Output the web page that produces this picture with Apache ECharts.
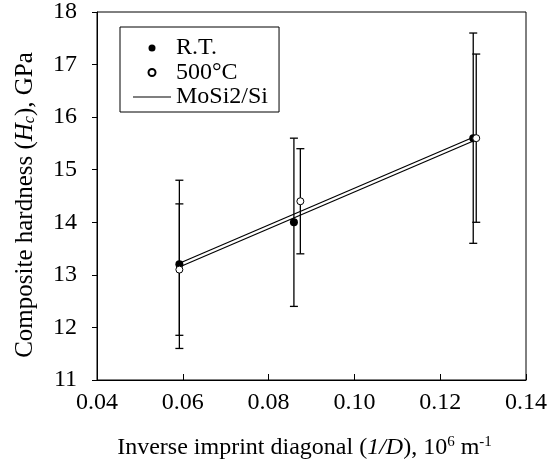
<!DOCTYPE html>
<html>
<head>
<meta charset="utf-8">
<script src="https://cdn.jsdelivr.net/npm/echarts@6/dist/echarts.min.js"></script>
<style>
  html, body { margin: 0; padding: 0; background: #fff; }
  #chart { width: 550px; height: 468px; }
</style>
</head>
<body>
<div id="chart"></div>
<script>
// R.T. measurements
var rtX = [0.0592, 0.0859, 0.1277]
var rtY = [13.2, 14.0, 15.6]
var rtErr = [1.6, 1.6, 2.0]
// 500°C measurements
var hotX = [0.0592, 0.0874, 0.1284]
var hotY = [13.1, 14.4, 15.6]
var hotErr = [1.25, 1.0, 1.6]
// MoSi2/Si model lines
var fitX = [0.0592, 0.1284]
var fitUpper = [13.22, 15.64]
var fitLower = [13.15, 15.57]

var xTicks = { min: 0.04, max: 0.14, interval: 0.02 }
var yTicks = { min: 11, max: 18, interval: 1 }

var font = 'Liberation Serif'

function pairs (xs, ys) {
  return xs.map(function (x, i) { return [x, ys[i]] })
}
function bars (xs, ys, es) {
  return xs.map(function (x, i) { return [x, ys[i] - es[i], ys[i] + es[i]] })
}

function errorBar (params, api) {
  var x = api.value(0)
  var top = api.coord([x, api.value(2)])
  var bot = api.coord([x, api.value(1)])
  var w = 4
  var st = { stroke: '#000', lineWidth: 1.3 }
  return {
    type: 'group',
    children: [
      { type: 'line', shape: { x1: top[0], y1: top[1], x2: bot[0], y2: bot[1] }, style: st },
      { type: 'line', shape: { x1: top[0] - w, y1: top[1], x2: top[0] + w, y2: top[1] }, style: st },
      { type: 'line', shape: { x1: bot[0] - w, y1: bot[1], x2: bot[0] + w, y2: bot[1] }, style: st }
    ]
  }
}

var chart = echarts.init(document.getElementById('chart'))
chart.setOption({
  backgroundColor: '#fff',
  animation: false,
  grid: {
    left: 97,
    right: 23,
    top: 12,
    bottom: 88,
    show: true,
    borderColor: '#000',
    borderWidth: 1
  },
  legend: {
    left: 120,
    top: 27,
    orient: 'vertical',
    padding: [9, 11, 3, 13],
    itemGap: 0.5,
    itemWidth: 38,
    itemHeight: 7,
    borderColor: '#000',
    borderWidth: 1,
    textStyle: { fontFamily: font, fontSize: 24, color: '#000', lineHeight: 24 },
    data: [
      { name: 'R.T.', icon: 'circle' },
      { name: '500°C', icon: 'circle' },
      { name: 'MoSi2/Si', icon: 'path://M0,0 L38,0 L38,1.2 L0,1.2 Z' }
    ]
  },
  xAxis: {
    type: 'value',
    min: xTicks.min,
    max: xTicks.max,
    interval: xTicks.interval,
    name: 'Inverse imprint diagonal ({i|1/D}), 10{sup|6} m{sup|-1}',
    nameLocation: 'middle',
    nameGap: 55,
    nameTextStyle: {
      fontFamily: font,
      fontSize: 24,
      color: '#000',
      padding: [0, 14, 0, 0],
      rich: {
        i: { fontFamily: font, fontSize: 24, fontStyle: 'italic', color: '#000' },
        sup: { fontFamily: font, fontSize: 15, color: '#000', verticalAlign: 'top', padding: [0, 0, 11, 0] }
      }
    },
    axisLine: { lineStyle: { color: '#000', width: 1 } },
    axisTick: { inside: true, length: 6, lineStyle: { color: '#000' } },
    axisLabel: {
      fontFamily: font,
      fontSize: 24,
      color: '#000',
      margin: 11,
      formatter: function (v) { return v.toFixed(2) }
    },
    splitLine: { show: false }
  },
  yAxis: {
    type: 'value',
    min: yTicks.min,
    max: yTicks.max,
    interval: yTicks.interval,
    name: 'Composite hardness ({i|H}{sub|c}), GPa',
    nameLocation: 'middle',
    nameGap: 59,
    nameTextStyle: {
      fontFamily: font,
      fontSize: 25,
      color: '#000',
      padding: [0, 18, 0, 0],
      rich: {
        i: { fontFamily: font, fontSize: 25, fontStyle: 'italic', color: '#000' },
        sub: { fontFamily: font, fontSize: 16, fontStyle: 'italic', color: '#000', verticalAlign: 'bottom', padding: [9, 0, 0, 0] }
      }
    },
    axisLine: { lineStyle: { color: '#000', width: 1 } },
    axisTick: { inside: false, length: 5, lineStyle: { color: '#000' } },
    axisLabel: { fontFamily: font, fontSize: 24, color: '#000', margin: 20 },
    splitLine: { show: false }
  },
  series: [
    {
      name: 'rtErr',
      type: 'custom',
      renderItem: errorBar,
      encode: { x: 0, y: [1, 2] },
      data: bars(rtX, rtY, rtErr),
      z: 1
    },
    {
      name: 'hotErr',
      type: 'custom',
      renderItem: errorBar,
      encode: { x: 0, y: [1, 2] },
      data: bars(hotX, hotY, hotErr),
      z: 1
    },
    {
      name: 'MoSi2/Si',
      type: 'line',
      showSymbol: false,
      color: '#000',
      lineStyle: { color: '#000', width: 1.2 },
      data: pairs(fitX, fitUpper),
      z: 2
    },
    {
      name: 'MoSi2/Si',
      type: 'line',
      showSymbol: false,
      color: '#000',
      lineStyle: { color: '#000', width: 1.2 },
      data: pairs(fitX, fitLower),
      z: 2
    },
    {
      name: 'R.T.',
      type: 'scatter',
      symbol: 'circle',
      symbolSize: 8,
      itemStyle: { color: '#000', opacity: 1 },
      data: pairs(rtX, rtY),
      z: 3
    },
    {
      name: '500°C',
      type: 'scatter',
      symbol: 'circle',
      symbolSize: 7,
      itemStyle: { color: '#fff', borderColor: '#000', borderWidth: 1, opacity: 1 },
      data: pairs(hotX, hotY),
      z: 4
    }
  ]
})
</script>
</body>
</html>
